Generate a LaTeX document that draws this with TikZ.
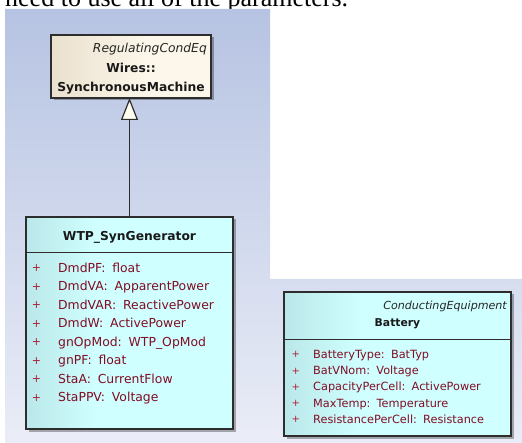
\documentclass[tikz,border=0pt]{standalone}
\usepackage{fontspec}
\setmainfont{DejaVu Sans}
\newfontfamily\capfont{Liberation Serif}
\usetikzlibrary{arrows.meta,shadows}
\definecolor{panelTop}{RGB}{182,195,226}
\definecolor{panelBot}{RGB}{234,237,247}
\definecolor{beigeL}{RGB}{234,224,206}
\definecolor{beigeR}{RGB}{252,247,234}
\definecolor{cyanL}{RGB}{186,232,234}
\definecolor{cyanR}{RGB}{208,255,255}
\definecolor{attr}{RGB}{128,14,36}
\definecolor{plusc}{RGB}{170,30,50}
\definecolor{edge}{RGB}{45,45,45}
\definecolor{triFill}{RGB}{255,252,240}
\pgfdeclarehorizontalshading{cyanshade}{100bp}{color(0bp)=(cyanL); color(25bp)=(cyanL); color(42bp)=(cyanR); color(100bp)=(cyanR)}
\pgfdeclarehorizontalshading{beigeshade}{100bp}{color(0bp)=(beigeL); color(25bp)=(beigeL); color(55bp)=(beigeR); color(100bp)=(beigeR)}
\newcommand\attrsep{\hspace{0.55em}}
\tikzset{
  classbox/.style={draw=edge, line width=1.2pt, inner sep=0pt, outer sep=0pt, rectangle,
    drop shadow={shadow xshift=2.5pt, shadow yshift=-2.5pt, fill=black, opacity=0.3}},
  cyanbox/.style={classbox, shading=cyanshade, shading angle=0},
  beigebox/.style={classbox, shading=beigeshade, shading angle=0},
  stereo/.style={anchor=base east, inner sep=0pt, text=black!85, font=\itshape\fontsize{12.3}{14}\selectfont},
  cname/.style={anchor=base, inner sep=0pt, text=black!90, font=\bfseries\fontsize{12.3}{14}\selectfont},
  attrtxt/.style={anchor=base west, inner sep=0pt, text=attr, font=\fontsize{12.4}{14}\selectfont},
  plussign/.style={anchor=base, inner sep=0pt, text=plusc, font=\fontsize{11}{12}\selectfont},
  sepline/.style={draw=edge, line width=1pt},
  genarrow/.style={draw=edge, line width=1.2pt, -{Triangle[length=22pt, width=17pt, fill=triFill]}}
}
\begin{document}
\begin{tikzpicture}[x=1pt,y=-1pt]
\useasboundingbox (0,0) rectangle (522,443);
\clip (0,0) rectangle (522,443);
% caption fragment above the screenshot
\node[anchor=base west, inner sep=0pt, font=\capfont\fontsize{26}{30}\selectfont] (cap) at (5,7) {need to use all of the parameters.};
% screenshot background
\shade[top color=panelTop, bottom color=panelBot] (5,9) -- (270,9) -- (270,279) -- (522,279) -- (522,443) -- (5,443) -- cycle;

% SynchronousMachine
\node[beigebox, minimum width=160, minimum height=63, anchor=north west] (sm) at (51,35) {};
\node[stereo] (smst) at (207,53) {RegulatingCondEq};
\node[cname] (smns) at (131,73) {Wires::};
\node[cname] (smname) at (131,92) {SynchronousMachine};

% WTP_SynGenerator
\node[cyanbox, minimum width=207, minimum height=212, anchor=north west] (wtp) at (26,217) {};
\node[cname] (wtpname) at (129.5,241) {WTP\_SynGenerator};
\coordinate (sepA) at (129,253);
\draw[sepline] (wtp.west |- sepA) -- (wtp.east |- sepA);
\foreach \t [count=\i from 0] in {DmdPF:\attrsep float, DmdVA:\attrsep ApparentPower, DmdVAR:\attrsep ReactivePower, DmdW:\attrsep ActivePower, gnOpMod:\attrsep WTP\_OpMod, gnPF:\attrsep float, StaA:\attrsep CurrentFlow, StaPPV:\attrsep Voltage}{
  \node[plussign] (wp\i) at (36.5,{271.8+18.5*\i}) {+};
  \node[attrtxt] (wa\i) at (58,{272.3+18.5*\i}) {\t};
}

% generalization
\draw[genarrow] (wtp.north) -- (wtp.north |- sm.south);

% Battery
\node[cyanbox, minimum width=227, minimum height=144, anchor=north west] (bat) at (284,292) {};
\node[stereo, font=\itshape\fontsize{11.1}{13}\selectfont] (batst) at (507,310) {ConductingEquipment};
\node[cname, font=\bfseries\fontsize{10.8}{13}\selectfont] (batname) at (397.5,327) {Battery};
\coordinate (sepB) at (397,340);
\draw[sepline] (bat.west |- sepB) -- (bat.east |- sepB);
\foreach \t [count=\i from 0] in {BatteryType:\attrsep BatTyp, BatVNom:\attrsep Voltage, CapacityPerCell:\attrsep ActivePower, MaxTemp:\attrsep Temperature, ResistancePerCell:\attrsep Resistance}{
  \node[plussign, font=\fontsize{10}{11}\selectfont] (bp\i) at (295.7,{357.8+16.25*\i}) {+};
  \node[attrtxt, font=\fontsize{11.3}{13}\selectfont] (ba\i) at (313,{358.3+16.25*\i}) {\t};
}
\end{tikzpicture}
\end{document}
